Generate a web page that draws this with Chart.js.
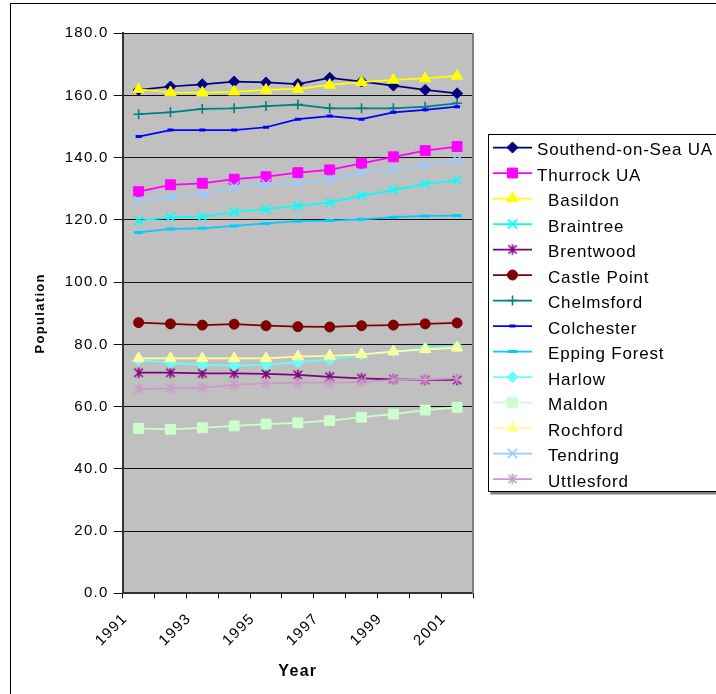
<!DOCTYPE html>
<html>
<head>
<meta charset="utf-8">
<style>
  html, body { margin: 0; padding: 0; background: #ffffff; }
  #wrap { width: 716px; height: 694px; }
</style>
<script src="https://cdn.jsdelivr.net/npm/chart.js@4.4.1/dist/chart.umd.min.js"></script>
</head>
<body>
<div id="wrap"><canvas id="c" width="716" height="694"></canvas></div>
<script>
// Population of Essex districts and unitary authorities (thousands), 1991-2001
const years = ['1991', '1992', '1993', '1994', '1995', '1996', '1997', '1998', '1999', '2000', '2001'];

const districts = [
  'Southend-on-Sea UA', 'Thurrock UA', '  Basildon', '  Braintree', '  Brentwood',
  '  Castle Point', '  Chelmsford', '  Colchester', '  Epping Forest', '  Harlow',
  '  Maldon', '  Rochford', '  Tendring', '  Uttlesford'
];

const southend    = [161.8, 162.9, 163.6, 164.5, 164.2, 163.7, 165.7, 164.5, 163.2, 161.8, 160.7];
const thurrock    = [129.1, 131.3, 131.8, 133.1, 133.9, 135.2, 136.1, 138.2, 140.3, 142.3, 143.6];
const basildon    = [162.0, 161.0, 160.9, 161.2, 161.8, 162.1, 163.4, 164.3, 165.0, 165.5, 166.3];
const braintree   = [119.7, 120.9, 121.1, 122.5, 123.5, 124.5, 125.6, 127.8, 129.6, 131.6, 132.8];
const brentwood   = [70.9, 70.9, 70.7, 70.7, 70.5, 70.2, 69.6, 69.1, 68.8, 68.6, 68.6];
const castlePoint = [87.0, 86.6, 86.2, 86.5, 86.0, 85.7, 85.6, 86.0, 86.2, 86.6, 86.9];
const chelmsford  = [154.0, 154.6, 155.7, 155.9, 156.6, 157.1, 155.9, 155.9, 155.9, 156.4, 157.5];
const colchester  = [146.8, 148.9, 148.9, 148.9, 149.8, 152.4, 153.4, 152.4, 154.6, 155.4, 156.4];
const eppingForest= [116.0, 117.1, 117.3, 118.1, 118.9, 119.6, 119.8, 120.2, 120.9, 121.3, 121.4];
const harlow      = [75.0, 74.1, 73.4, 73.2, 73.4, 74.3, 75.2, 76.6, 77.7, 78.8, 79.3];
const maldon      = [53.0, 52.7, 53.2, 53.8, 54.4, 54.8, 55.5, 56.6, 57.6, 58.9, 59.8];
const rochford    = [75.5, 75.5, 75.5, 75.5, 75.5, 76.1, 76.3, 76.8, 77.7, 78.4, 78.9];
const tendring    = [126.2, 127.5, 128.1, 130.8, 131.6, 132.0, 133.0, 135.2, 136.3, 137.7, 139.3];
const uttlesford  = [65.6, 65.9, 66.1, 67.0, 67.5, 67.7, 67.7, 67.9, 68.6, 68.8, 69.1];

const yMin = 0, yMax = 180, yStep = 20;

// Excel-style "*" marker: an X with a vertical bar through it
function asteriskMarker(color) {
  const size = 12;
  const c = document.createElement('canvas');
  c.width = size; c.height = size;
  const g = c.getContext('2d');
  g.strokeStyle = color;
  g.lineWidth = 1.6;
  const m = size / 2, d = 4.2, v = 5.2;
  g.beginPath();
  g.moveTo(m - d, m - d); g.lineTo(m + d, m + d);
  g.moveTo(m + d, m - d); g.lineTo(m - d, m + d);
  g.moveTo(m, m - v); g.lineTo(m, m + v);
  g.stroke();
  return c;
}

// colour, marker style, marker radius, marker border width
const styles = [
  ['#000080', 'rectRot', 5.5, 1],
  ['#FF00FF', 'rect', 7, 1],
  ['#FFFF00', 'triangle', 6.5, 1],
  ['#00FFFF', 'crossRot', 6.5, 1.6],
  ['#800080', 'asterisk', 6, 1],
  ['#800000', 'circle', 5, 1],
  ['#008080', 'cross', 5, 1.6],
  ['#0000FF', 'line', 3, 3],
  ['#00CCFF', 'line', 4.5, 3],
  ['#66FFFF', 'rectRot', 5.5, 1],
  ['#CCFFCC', 'rect', 7, 1],
  ['#FFFF99', 'triangle', 6.5, 1],
  ['#99CCFF', 'crossRot', 6.5, 1.6],
  ['#CC99CC', 'asterisk', 6, 1]
];

const seriesValues = [southend, thurrock, basildon, braintree, brentwood, castlePoint,
  chelmsford, colchester, eppingForest, harlow, maldon, rochford, tendring, uttlesford];

const datasets = seriesValues.map((vals, i) => {
  const [color, shape, radius, bw] = styles[i];
  const pointStyle = shape === 'asterisk' ? asteriskMarker(color) : shape;
  return {
    label: districts[i],
    data: vals,
    borderColor: color,
    backgroundColor: color,
    borderWidth: 1.75,
    tension: 0,
    pointStyle: pointStyle,
    pointRadius: radius,
    pointBorderWidth: bw,
    pointBackgroundColor: color,
    pointBorderColor: color,
    order: -i
  };
});

const PLOT_LEFT = 122.7, PLOT_RIGHT = 473, PLOT_TOP = 33.3, PLOT_BOTTOM = 593.3;
const W = 716, H = 694;

const textSpacing = {
  id: 'textSpacing',
  beforeLayout(chart) { chart.ctx.letterSpacing = '1.3px'; },
  beforeDraw(chart) { chart.ctx.letterSpacing = '1.3px'; }
};

const frame = {
  id: 'frame',
  beforeDraw(chart) {
    const { ctx, chartArea: a } = chart;
    ctx.save();
    ctx.fillStyle = '#ffffff';
    ctx.fillRect(0, 0, W, H);
    ctx.strokeStyle = '#000000';
    ctx.lineWidth = 1;
    ctx.strokeRect(10.5, 3.5, W + 20, H + 20);
    ctx.fillStyle = '#C0C0C0';
    ctx.fillRect(a.left, a.top, a.right - a.left, a.bottom - a.top);
    ctx.restore();
  },
  beforeDatasetsDraw(chart) {
    const { ctx, chartArea: a } = chart;
    ctx.save();
    ctx.strokeStyle = '#808080';
    ctx.lineWidth = 2;
    ctx.beginPath();
    ctx.moveTo(a.right, a.top);
    ctx.lineTo(a.right, a.bottom);
    ctx.stroke();
    ctx.restore();
  }
};

const sideLegend = {
  id: 'sideLegend',
  afterDraw(chart) {
    const { ctx } = chart;
    const boxLeft = 488.5, boxTop = 134.5, boxBottom = 491.5;
    ctx.save();
    ctx.letterSpacing = '0.8px';
    // shadow and box
    ctx.fillStyle = '#808080';
    ctx.fillRect(boxLeft + 2, boxBottom + 0.5, W, 2.5);
    ctx.fillStyle = '#ffffff';
    ctx.fillRect(boxLeft, boxTop, W, boxBottom - boxTop);
    ctx.strokeStyle = '#000000';
    ctx.lineWidth = 1;
    ctx.strokeRect(boxLeft, boxTop, W, boxBottom - boxTop);

    ctx.font = '17px "Liberation Sans", Arial, sans-serif';
    ctx.textBaseline = 'middle';
    ctx.textAlign = 'left';
    chart.data.datasets.forEach((ds, i) => {
      const y = 147.5 + i * 25.5;
      ctx.strokeStyle = ds.borderColor;
      ctx.lineWidth = 1.75;
      ctx.beginPath();
      ctx.moveTo(493, y);
      ctx.lineTo(532, y);
      ctx.stroke();
      ctx.fillStyle = ds.pointBackgroundColor;
      ctx.strokeStyle = ds.pointBorderColor;
      ctx.lineWidth = ds.pointBorderWidth;
      Chart.helpers.drawPoint(ctx, {
        pointStyle: ds.pointStyle,
        radius: ds.pointRadius,
        borderWidth: ds.pointBorderWidth,
        rotation: 0
      }, 512.5, y);
      ctx.fillStyle = '#000000';
      ctx.fillText(ds.label, 537, y + 3);
    });
    ctx.restore();
  }
};

new Chart(document.getElementById('c'), {
  type: 'line',
  data: { labels: years, datasets: datasets },
  options: {
    responsive: false,
    animation: false,
    devicePixelRatio: 1,
    events: [],
    layout: { padding: { left: 0, top: PLOT_TOP, right: W - PLOT_RIGHT, bottom: 0 } },
    plugins: {
      legend: { display: false },
      tooltip: { enabled: false }
    },
    scales: {
      x: {
        type: 'category',
        offset: true,
        afterFit(scale) { scale.height = H - PLOT_BOTTOM; },
        grid: {
          offset: true,
          drawOnChartArea: false,
          drawTicks: true,
          tickLength: 5,
          tickColor: '#000000',
          tickWidth: 1
        },
        border: { display: true, color: '#333333', width: 2 },
        ticks: {
          autoSkip: false,
          minRotation: 45,
          maxRotation: 45,
          padding: 11.5,
          labelOffset: -13.4,
          color: '#000000',
          font: { family: '"Liberation Sans", Arial, sans-serif', size: 15 },
          callback: (v, idx) => (idx % 2 === 0 ? years[idx] : '')
        },
        title: {
          display: true,
          text: 'Year',
          color: '#000000',
          padding: { top: 0, bottom: 13 },
          font: { family: '"Liberation Sans", Arial, sans-serif', size: 16, weight: 'bold' }
        }
      },
      y: {
        min: yMin,
        max: yMax,
        afterFit(scale) { scale.width = PLOT_LEFT; },
        grid: {
          color: '#111111',
          lineWidth: 1,
          tickLength: 9,
          tickColor: '#111111'
        },
        border: { display: true, color: '#333333', width: 2 },
        ticks: {
          stepSize: yStep,
          padding: 5,
          color: '#000000',
          font: { family: '"Liberation Sans", Arial, sans-serif', size: 15 },
          callback: v => Number(v).toFixed(1)
        },
        title: {
          display: true,
          text: 'Population',
          color: '#000000',
          padding: { top: 32.5, bottom: 0 },
          font: { family: '"Liberation Sans", Arial, sans-serif', size: 13, weight: 'bold' }
        }
      }
    }
  },
  plugins: [textSpacing, frame, sideLegend]
});
</script>
</body>
</html>
